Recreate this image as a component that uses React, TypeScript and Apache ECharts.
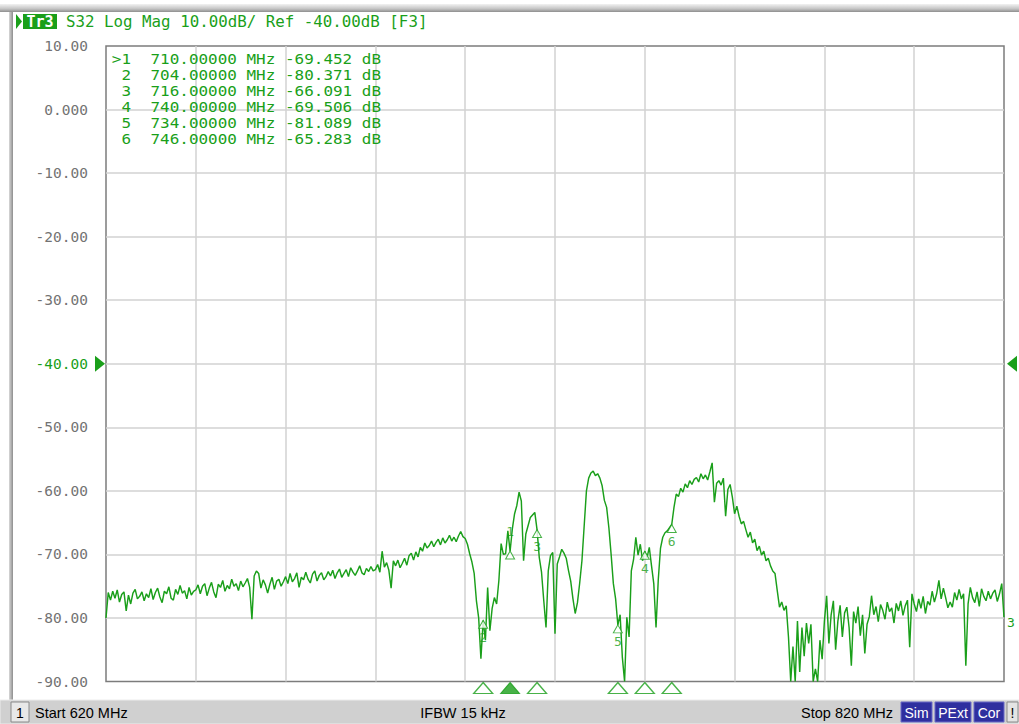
import React, { useEffect, useRef } from "react";
import * as echarts from "echarts";

// ---- sweep ----
const START_MHZ = 620;
const STOP_MHZ = 820;
const STEP_MHZ = 0.5;

// ---- trace values (dB), 0.5 MHz steps, one row per 10 MHz ----
const trace620 = [-80.0, -76.0, -77.2, -75.8, -76.9, -75.6, -77.5, -76.3, -75.9, -78.9, -76.4, -77.8, -76.1, -75.5, -77.0, -76.6, -75.9, -77.3, -76.2, -76.8];
const trace630 = [-75.4, -77.1, -76.0, -75.3, -76.7, -77.6, -75.8, -76.2, -75.1, -76.9, -77.2, -75.5, -76.3, -74.9, -76.1, -75.7, -77.0, -75.2, -76.4, -75.8];
const trace640 = [-75.6, -74.8, -76.2, -75.0, -74.6, -76.5, -75.3, -74.4, -75.9, -76.8, -74.7, -75.2, -74.1, -75.8, -74.9, -75.4, -73.9, -75.0, -74.6, -75.7];
const trace650 = [-74.2, -75.1, -74.5, -73.8, -75.2, -80.2, -73.4, -72.6, -73.0, -75.3, -74.0, -74.8, -76.1, -74.7, -73.6, -75.5, -74.2, -73.9, -75.0, -74.3];
const trace660 = [-73.5, -74.6, -73.0, -74.3, -73.8, -72.9, -75.2, -73.6, -74.0, -72.8, -73.9, -74.5, -73.1, -72.6, -74.2, -73.3, -72.9, -74.0, -73.5, -72.7];
const trace670 = [-73.4, -72.5, -73.8, -72.9, -72.3, -73.6, -73.0, -72.4, -73.5, -72.1, -72.8, -73.3, -72.6, -71.8, -72.9, -73.2, -72.2, -72.7, -71.9, -72.6];
const trace680 = [-72.4, -71.6, -72.8, -69.5, -72.0, -71.3, -72.5, -75.3, -71.0, -71.8, -70.9, -72.1, -71.4, -70.6, -71.7, -70.2, -69.8, -70.9, -69.6, -70.4];
const trace690 = [-68.9, -69.5, -68.2, -69.0, -68.6, -67.9, -68.8, -68.1, -67.6, -68.5, -67.4, -68.2, -67.7, -67.0, -67.9, -67.3, -68.0, -67.1, -66.4, -67.2];
const trace700 = [-67.5, -68.4, -69.9, -71.2, -73.0, -77.3, -80.0, -86.4, -80.4, -83.5, -75.2, -82.0, -78.5, -76.8, -77.8, -74.1, -68.3, -70.0, -69.9, -66.3];
const trace710 = [-69.5, -66.0, -63.6, -62.3, -60.2, -61.6, -71.0, -66.8, -65.5, -64.2, -63.8, -63.4, -66.1, -70.5, -72.8, -77.3, -81.5, -72.6, -70.2, -69.7];
const trace720 = [-82.5, -71.5, -70.4, -69.2, -69.8, -70.6, -72.5, -74.2, -77.0, -79.3, -77.6, -74.5, -71.0, -65.5, -60.0, -58.0, -57.2, -56.9, -57.6, -57.3];
const trace730 = [-58.0, -59.2, -61.5, -62.6, -65.8, -70.0, -74.6, -77.0, -81.1, -79.5, -86.2, -90.0, -79.9, -83.0, -72.6, -70.8, -67.3, -70.1, -68.4, -71.0];
const trace740 = [-69.5, -70.5, -68.9, -71.8, -74.6, -81.5, -74.0, -69.0, -67.3, -66.6, -66.3, -65.8, -65.3, -62.6, -60.5, -60.9, -59.6, -60.2, -58.9, -59.5];
const trace750 = [-58.4, -59.0, -58.2, -57.9, -58.6, -57.3, -58.1, -57.5, -58.3, -57.0, -55.6, -61.8, -58.8, -58.4, -59.1, -58.0, -64.0, -59.8, -59.0, -61.0];
const trace760 = [-63.6, -62.4, -64.0, -65.2, -64.8, -66.1, -67.3, -66.5, -68.2, -67.6, -69.4, -68.7, -70.1, -69.5, -71.0, -70.6, -71.8, -72.6, -73.0, -75.7];
const trace770 = [-78.3, -77.5, -78.8, -78.1, -83.0, -90.0, -84.5, -90.0, -80.5, -88.5, -81.5, -86.0, -80.8, -84.0, -81.0, -90.0, -88.0, -90.0, -83.5, -86.5];
const trace780 = [-80.5, -76.5, -84.0, -79.5, -77.3, -85.0, -80.5, -78.0, -83.0, -79.2, -78.3, -81.5, -87.5, -79.0, -80.8, -78.2, -82.8, -79.5, -85.6, -81.0];
const trace790 = [-79.8, -76.5, -79.5, -78.2, -80.6, -77.9, -78.8, -80.2, -77.5, -79.0, -78.4, -80.8, -77.7, -78.9, -77.3, -79.6, -78.1, -77.2, -84.6, -76.2];
const trace800 = [-77.8, -79.0, -77.0, -78.5, -76.6, -79.3, -77.4, -78.0, -75.8, -77.5, -76.2, -74.1, -77.0, -75.3, -76.8, -78.4, -77.5, -78.3, -76.0, -77.2];
const trace810 = [-75.5, -77.0, -76.2, -87.5, -77.8, -75.2, -76.8, -77.6, -75.9, -78.2, -75.4, -76.6, -77.3, -75.8, -77.0, -76.1, -75.6, -77.4, -76.2, -74.6];
const trace820 = [-79.9];

const traceDb = [
  ...trace620, ...trace630, ...trace640, ...trace650, ...trace660,
  ...trace670, ...trace680, ...trace690, ...trace700, ...trace710,
  ...trace720, ...trace730, ...trace740, ...trace750, ...trace760,
  ...trace770, ...trace780, ...trace790, ...trace800, ...trace810,
  ...trace820,
];

// ---- markers ----
const markerNums = [1, 2, 3, 4, 5, 6];
const markerFreqs = [710, 704, 716, 740, 734, 746];
const markerDb = [-69.452, -80.371, -66.091, -69.506, -81.089, -65.283];
const activeMarker = 1;

// ---- axis ----
const yTicks = [10, 0, -10, -20, -30, -40, -50, -60, -70, -80, -90];
const yTickLabels = ["10.00", "0.000", "-10.00", "-20.00", "-30.00", "-40.00", "-50.00", "-60.00", "-70.00", "-80.00", "-90.00"];
const refLevel = -40;

// ---- texts ----
const headerTrace = "Tr3";
const headerText = "S32 Log Mag 10.00dB/ Ref -40.00dB [F3]";
const statusStart = "Start 620 MHz";
const statusIfbw = "IFBW 15 kHz";
const statusStop = "Stop 820 MHz";
const statusChannel = "1";
const statusFlags = ["Sim", "PExt", "Cor"];

const GREEN = "#1a9f1a";
const MONO = '"DejaVu Sans Mono", monospace';
const SANS = '"Liberation Sans", Arial, sans-serif';

export default function App() {
  const ref = useRef<HTMLDivElement>(null);

  useEffect(() => {
    const el = ref.current!;
    const chart = echarts.init(el, null, { renderer: "svg" });

    const traceData = traceDb.map((v, i) => [START_MHZ + i * STEP_MHZ, v]);
    const markerData = markerFreqs.map((f, i) => ({
      value: [f, markerDb[i]],
      label: {
        position: markerNums[i] === activeMarker ? "top" : "bottom",
        distance: markerNums[i] === activeMarker ? 12 : 2,
      },
    }));
    const stimData = markerFreqs.map((f, i) => ({
      value: [f, 0.5],
      itemStyle:
        markerNums[i] === activeMarker
          ? { color: GREEN, borderColor: GREEN, borderWidth: 1 }
          : { color: "#ffffff", borderColor: GREEN, borderWidth: 1.3 },
    }));

    const option: any = {
      animation: false,
      backgroundColor: "#ffffff",
      grid: [
        { left: 106, top: 46, width: 898, height: 635.5, show: true, borderColor: "#7c7c7c", borderWidth: 1.5, backgroundColor: "transparent" },
        { left: 106, top: 682, width: 898, height: 12, show: false },
      ],
      xAxis: [
        {
          type: "value", gridIndex: 0, min: START_MHZ, max: STOP_MHZ, interval: 20,
          axisLine: { show: false }, axisTick: { show: false }, axisLabel: { show: false },
          splitLine: { show: true, showMinLine: false, showMaxLine: false, lineStyle: { color: "#d2d2d2", width: 1.5 } },
        },
        { type: "value", gridIndex: 1, min: START_MHZ, max: STOP_MHZ, show: false },
      ],
      yAxis: [
        {
          type: "value", gridIndex: 0, min: -90, max: 10, interval: 10,
          axisLine: { show: false }, axisTick: { show: false },
          axisLabel: {
            margin: 18,
            color: "#737373",
            fontFamily: MONO,
            fontSize: 14.5,
            formatter: (v: number) => {
              const i = yTicks.indexOf(Math.round(v));
              const s = i >= 0 ? yTickLabels[i] : "";
              return Math.round(v) === refLevel ? `{ref|${s}}` : s;
            },
            rich: { ref: { color: GREEN, fontFamily: MONO, fontSize: 14.5 } },
          },
          splitLine: { show: true, showMinLine: false, showMaxLine: false, lineStyle: { color: "#d2d2d2", width: 1.5 } },
        },
        { type: "value", gridIndex: 1, min: 0, max: 1, show: false },
      ],
      series: [
        {
          type: "line",
          xAxisIndex: 0, yAxisIndex: 0,
          data: traceData,
          symbol: "none",
          lineStyle: { color: GREEN, width: 1.45 },
          z: 3,
        },
        {
          type: "scatter",
          xAxisIndex: 0, yAxisIndex: 0,
          data: markerData,
          symbol: "triangle",
          symbolSize: [9, 8],
          symbolOffset: [0, "50%"],
          itemStyle: { color: "#ffffff", borderColor: GREEN, borderWidth: 1 },
          label: {
            show: true,
            color: GREEN,
            fontFamily: MONO,
            fontSize: 13,
            formatter: (p: any) => String(markerNums[p.dataIndex]),
          },
          z: 4,
        },
        {
          type: "scatter",
          xAxisIndex: 1, yAxisIndex: 1,
          data: stimData,
          symbol: "triangle",
          symbolSize: [19, 11],
          clip: false,
          z: 4,
        },
      ],
    };
    chart.setOption(option);

    const [lx, ly] = chart.convertToPixel({ xAxisIndex: 0, yAxisIndex: 0 }, [START_MHZ, refLevel]) as number[];
    const [rx] = chart.convertToPixel({ xAxisIndex: 0, yAxisIndex: 0 }, [STOP_MHZ, refLevel]) as number[];

    const TABLE_FONT = `14.5px ${MONO}`;
    const TABLE_SX = 9.6 / (14.5 * 0.602);
    const rowText = (n: number, i: number) => [
      {
        type: "text", x: 131, y: 59.5 + i * 15.9, z: 10, silent: true, scaleX: TABLE_SX,
        style: { text: (n === activeMarker ? ">" : "") + String(n), fill: GREEN, font: TABLE_FONT, align: "right", verticalAlign: "middle" },
      },
      {
        type: "text", x: 150.5, y: 59.5 + i * 15.9, z: 10, silent: true, scaleX: TABLE_SX,
        style: { text: `${markerFreqs[i].toFixed(5)} MHz`, fill: GREEN, font: TABLE_FONT, align: "left", verticalAlign: "middle" },
      },
      {
        type: "text", x: 285, y: 59.5 + i * 15.9, z: 10, silent: true, scaleX: TABLE_SX,
        style: { text: `${markerDb[i].toFixed(3)} dB`, fill: GREEN, font: TABLE_FONT, align: "left", verticalAlign: "middle" },
      },
    ];

    const flagBoxes: any[] = [];
    const flagX = [901, 935, 974];
    const flagW = [31, 36, 30];
    statusFlags.forEach((t, i) => {
      flagBoxes.push({
        type: "rect", z: 10, silent: true,
        shape: { x: flagX[i], y: 702, width: flagW[i], height: 20 },
        style: { fill: "#2f2f9f", stroke: "#6a6ac8", lineWidth: 1 },
      });
      flagBoxes.push({
        type: "text", z: 11, silent: true, x: flagX[i] + flagW[i] / 2, y: 712.5,
        style: { text: t, fill: "#ffffff", font: `14px ${SANS}`, align: "center", verticalAlign: "middle" },
      });
    });

    const graphics: any[] = [
      // top frame band
      {
        type: "rect", z: 1, silent: true,
        shape: { x: 0, y: 4, width: 1019, height: 8 },
        style: {
          fill: new echarts.graphic.LinearGradient(0, 0, 0, 1, [
            { offset: 0, color: "#f2f2f2" },
            { offset: 0.6, color: "#c4c4c4" },
            { offset: 1, color: "#8e8e8e" },
          ]),
        },
      },
      // left frame band
      {
        type: "rect", z: 1, silent: true,
        shape: { x: 9, y: 12, width: 4, height: 688 },
        style: {
          fill: new echarts.graphic.LinearGradient(0, 0, 1, 0, [
            { offset: 0, color: "#d8d8d8" },
            { offset: 1, color: "#8e8e8e" },
          ]),
        },
      },
      // header
      { type: "polygon", z: 10, silent: true, shape: { points: [[16, 14], [22, 21.5], [16, 29]] }, style: { fill: GREEN } },
      { type: "rect", z: 10, silent: true, shape: { x: 23, y: 14, width: 34, height: 15 }, style: { fill: GREEN } },
      {
        type: "text", z: 11, silent: true, x: 40, y: 21.5,
        style: { text: headerTrace, fill: "#ffffff", font: `bold 15px ${MONO}`, align: "center", verticalAlign: "middle" },
      },
      {
        type: "text", z: 10, silent: true, x: 66, y: 21.5,
        style: { text: headerText, fill: GREEN, font: `15.8px ${MONO}`, align: "left", verticalAlign: "middle" },
      },
      // marker table
      ...markerNums.flatMap((n, i) => rowText(n, i)),
      // reference level arrows
      { type: "polygon", z: 10, silent: true, shape: { points: [[lx - 11, ly - 8], [lx - 1, ly], [lx - 11, ly + 8]] }, style: { fill: GREEN } },
      { type: "polygon", z: 10, silent: true, shape: { points: [[rx + 13, ly - 8], [rx + 3, ly], [rx + 13, ly + 8]] }, style: { fill: GREEN } },
      // stray marker label at right edge
      {
        type: "text", z: 10, silent: true, x: rx + 3, y: 622,
        style: { text: "3", fill: GREEN, font: `13px ${MONO}`, align: "left", verticalAlign: "middle" },
      },
      // status bar
      {
        type: "rect", z: 9, silent: true,
        shape: { x: 0, y: 700, width: 1019, height: 24 },
        style: { fill: "#d0d0d0", stroke: "#ececec", lineWidth: 1 },
      },
      {
        type: "rect", z: 10, silent: true,
        shape: { x: 11, y: 702, width: 18, height: 20 },
        style: { fill: "#e8e8e8", stroke: "#8a8a8a", lineWidth: 1 },
      },
      {
        type: "text", z: 11, silent: true, x: 20, y: 712.5,
        style: { text: statusChannel, fill: "#000000", font: `14px ${SANS}`, align: "center", verticalAlign: "middle" },
      },
      {
        type: "text", z: 11, silent: true, x: 35, y: 712.5,
        style: { text: statusStart, fill: "#000000", font: `14.5px ${SANS}`, align: "left", verticalAlign: "middle" },
      },
      {
        type: "text", z: 11, silent: true, x: 463, y: 712.5,
        style: { text: statusIfbw, fill: "#000000", font: `14.5px ${SANS}`, align: "center", verticalAlign: "middle" },
      },
      {
        type: "text", z: 11, silent: true, x: 893, y: 712.5,
        style: { text: statusStop, fill: "#000000", font: `14.5px ${SANS}`, align: "right", verticalAlign: "middle" },
      },
      ...flagBoxes,
      {
        type: "rect", z: 10, silent: true,
        shape: { x: 1007, y: 702, width: 11, height: 20 },
        style: { fill: "#e4e4e4", stroke: "#8a8a8a", lineWidth: 1 },
      },
      {
        type: "text", z: 11, silent: true, x: 1012.5, y: 712.5,
        style: { text: "!", fill: "#000000", font: `14px ${SANS}`, align: "center", verticalAlign: "middle" },
      },
    ];

    chart.setOption({ graphic: graphics });

    return () => chart.dispose();
  }, []);

  return (
    <div
      ref={ref}
      style={{ position: "absolute", left: 0, top: 0, width: 1019, height: 724, background: "#ffffff" }}
    />
  );
}
